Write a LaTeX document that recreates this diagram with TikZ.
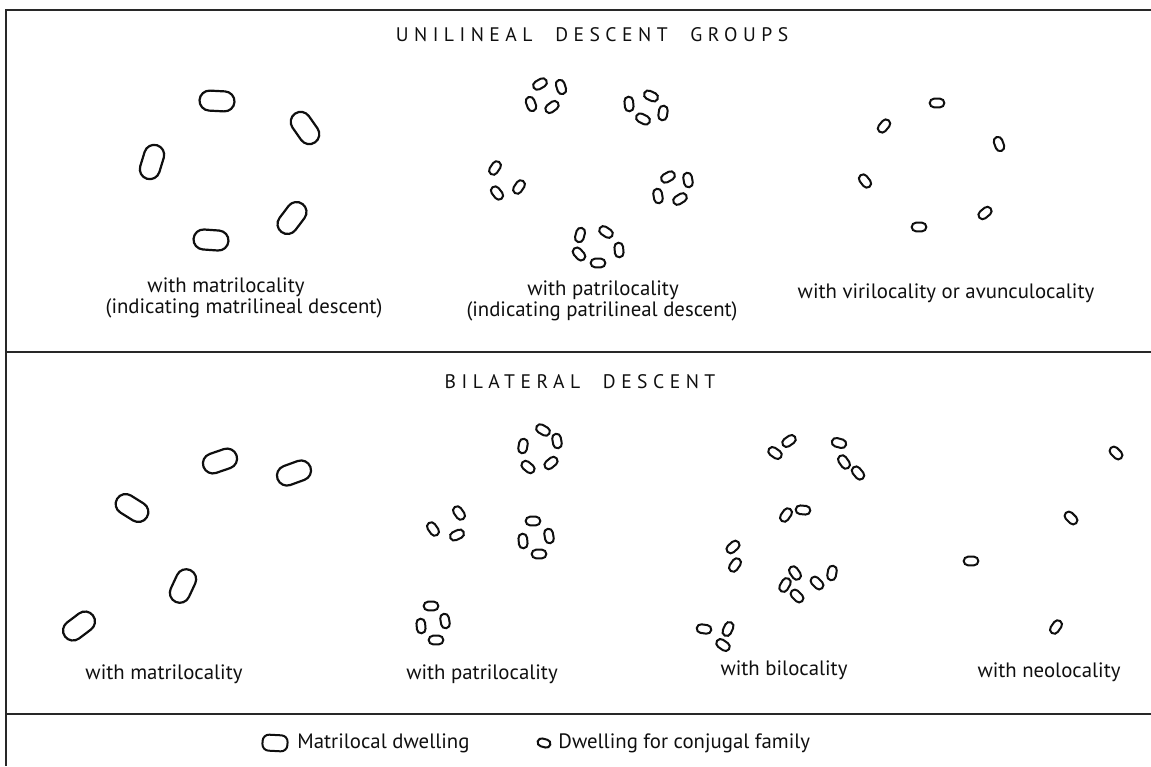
\documentclass[tikz,border=0pt]{standalone}
\usepackage{fontspec}
\setmainfont{PT Sans}
\usepackage{tikz}
\usetikzlibrary{shapes.misc, positioning}
\definecolor{myink}{RGB}{15,15,15}
\definecolor{myrule}{RGB}{40,40,40}
\tikzset{
  bighut/.style={rounded rectangle, draw=myink, line width=1.1pt,
    minimum width=17.5pt, minimum height=10pt, inner sep=0pt},
  smallhut/.style={rounded rectangle, draw=myink, line width=1pt,
    minimum width=7.3pt, minimum height=4.3pt, inner sep=0pt},
  keyhut/.style={rectangle, rounded corners=3.2pt, draw=myink, line width=1pt,
    minimum width=12.5pt, minimum height=8pt, inner sep=0pt},
  caption/.style={text=myink, font=\fontsize{10.4}{12.5}\selectfont, inner sep=0pt},
  heading/.style={text=myink, inner sep=0pt,
    font=\fontsize{9.8}{11}\selectfont\addfontfeature{LetterSpace=28}},
  rule/.style={draw=myrule, line width=1.1pt}
}

\begin{document}
\begin{tikzpicture}[x=0.5pt, y=-0.5pt]
  \useasboundingbox (0,0) rectangle (1151,766);

  % frame
  \draw [rule] (1151,10) -- (6,10) -- (6,766);
  \draw [rule] (6,352) -- (1151,352);
  \draw [rule] (6,714) -- (1151,714);

  \node [heading] (unihead) at (592,35) {UNILINEAL\hspace{6pt} DESCENT\hspace{6pt} GROUPS};
  \node [heading] (bihead) at (580,382) {BILATERAL\hspace{6pt} DESCENT};

  % unilineal, matrilocal
  \foreach \n/\x/\y/\a in {ma1/217/101/-3, ma2/305/128/-55, ma3/152/162/73,
      ma4/292/218/53, ma5/211/240/-4}
    \node [bighut, rotate=\a] (\n) at (\x,\y) {};
  \node [caption] (matcap) at (226,287) {with matrilocality};
  \node [caption] (matsub) at (244,308) {(indicating matrilineal descent)};

  % unilineal, patrilocal
  \foreach \n/\x/\y/\a in {pa1/540/84/30, pa2/561/87/108, pa3/531/104/110, pa4/552/107/37,
      pb1/651/96/-25, pb2/629/104/95, pb3/663/113/82, pb4/643/119/-27,
      pc1/495/168/56, pc2/497/193/-52, pc3/519/187/56,
      pd1/668/177/29, pd2/688/180/100, pd3/658/196/100, pd4/680/199/32,
      pe1/580/235/75, pe2/606/232/-33, pe3/579/254/-48, pe4/619/250/95, pe5/598/263/0}
    \node [smallhut, rotate=\a] (\n) at (\x,\y) {};
  \node [caption] (patcap) at (603,290) {with patrilocality};
  \node [caption] (patsub) at (602,311) {(indicating patrilineal descent)};

  % unilineal, virilocal
  \foreach \n/\x/\y/\a in {va1/937/103/0, va2/884/126/50, va3/999/144/110,
      va4/865/181/-52, va5/985/213/40, va6/919/227/0}
    \node [smallhut, rotate=\a] (\n) at (\x,\y) {};
  \node [caption] (vircap) at (946,293) {with virilocality or avunculocality};

  % bilateral, matrilocal
  \foreach \n/\x/\y/\a in {mb1/220/461/19, mb2/294/473/20, mb3/132/508/-32,
      mb4/183/586/65, mb5/79/626/37}
    \node [bighut, rotate=\a] (\n) at (\x,\y) {};
  \node [caption] (bmatcap) at (164,674) {with matrilocality};

  % bilateral, patrilocal
  \foreach \n/\x/\y/\a in {qa1/543/430/-30, qa2/557/441/100, qa3/523/446/80,
      qa4/551/463/40, qa5/528/467/-40,
      qb1/459/513/-55, qb2/433/529/-55, qb3/457/535/25,
      qc1/533/521/0, qc2/523/541/95, qc3/549/536/100, qc4/539/554/0,
      qd1/431/606/0, qd2/421/626/95, qd3/445/621/100, qd4/436/640/0}
    \node [smallhut, rotate=\a] (\n) at (\x,\y) {};
  \node [caption] (bpatcap) at (482,674) {with patrilocality};

  % bilateral, bilocal
  \foreach \n/\x/\y/\a in {ba1/789/441/35, ba2/775/453/-35,
      bb1/839/443/-15, bb2/844/462/-55, bb3/858/473/-50,
      bc1/786/515/55, bc2/803/510/-5, bd1/733/547/42, bd2/735/565/55,
      be1/795/573/-55, be2/785/585/60, be3/797/596/-45, be4/817/583/-45, be5/832/573/80,
      bf1/704/629/-8, bf2/728/629/65, bf3/723/645/-35}
    \node [smallhut, rotate=\a] (\n) at (\x,\y) {};
  \node [caption] (bilcap) at (784,670) {with bilocality};

  % bilateral, neolocal
  \foreach \n/\x/\y/\a in {na1/1116/453/-45, na2/1071/518/-45,
      na3/971/561/0, na4/1056/627/55}
    \node [smallhut, rotate=\a] (\n) at (\x,\y) {};
  \node [caption] (neocap) at (1049,672) {with neolocality};

  % key
  \node [keyhut, rotate=-3] (keybig) at (275,743) {};
  \node [caption, anchor=west] (keybigtext) at (297,743) {Matrilocal dwelling};
  \node [smallhut, rotate=-15, minimum width=6.5pt, minimum height=4pt] (keysmall) at (544,743) {};
  \node [caption, anchor=west] (keysmalltext) at (558,743) {Dwelling for conjugal family};
\end{tikzpicture}
\end{document}
